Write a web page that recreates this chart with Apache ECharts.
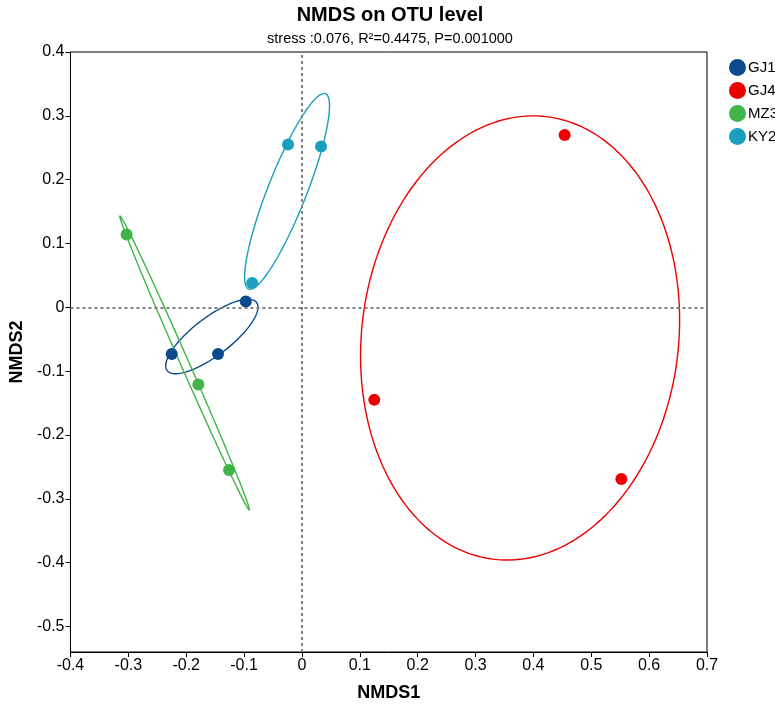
<!DOCTYPE html>
<html><head><meta charset="utf-8">
<script src="https://cdn.jsdelivr.net/npm/echarts@6/dist/echarts.min.js"></script>
<style>html,body{margin:0;padding:0;background:#fff}#c{width:775px;height:707px}</style>
</head><body><div id="c"></div><script>
// ---- data ----
const groups = ['GJ1', 'GJ4', 'MZ3', 'KY2'];
const colors = ['#0C4A8E', '#EC0000', '#40B448', '#1A9FBF'];
const GJ1 = [[-0.097, 0.009], [-0.225, -0.073], [-0.145, -0.073]];
const GJ4 = [[0.454, 0.270], [0.125, -0.145], [0.552, -0.269]];
const MZ3 = [[-0.303, 0.114], [-0.179, -0.121], [-0.126, -0.255]];
const KY2 = [[-0.024, 0.255], [0.033, 0.252], [-0.086, 0.038]];
const xTicks = [-0.4, -0.3, -0.2, -0.1, 0, 0.1, 0.2, 0.3, 0.4, 0.5, 0.6, 0.7];
const yTicks = [-0.5, -0.4, -0.3, -0.2, -0.1, 0, 0.1, 0.2, 0.3, 0.4];
const ellipseScale = 1.2326; // confidence-ellipse radius in sample-SD units
const titleText = 'NMDS on OTU level';
const subText = 'stress :0.076, R\u00B2=0.4475, P=0.001000';

const groupData = [GJ1, GJ4, MZ3, KY2];
const FONT = '"Liberation Sans", Arial, sans-serif';

// covariance ellipse (data space) for each group, mapped through the axes
function ellipseStats(pts) {
  const n = pts.length;
  let mx = 0, my = 0;
  pts.forEach(p => { mx += p[0]; my += p[1]; });
  mx /= n; my /= n;
  let sxx = 0, syy = 0, sxy = 0;
  pts.forEach(p => { const dx = p[0] - mx, dy = p[1] - my; sxx += dx * dx; syy += dy * dy; sxy += dx * dy; });
  sxx /= (n - 1); syy /= (n - 1); sxy /= (n - 1);
  const a = Math.sqrt(sxx), b = sxy / a, c = Math.sqrt(Math.max(syy - b * b, 0));
  return { mx, my, a, b, c };
}

const series = [];
// zero reference lines
series.push({
  type: 'scatter', name: '_ref', data: [], z: 1, silent: true,
  markLine: {
    silent: true, symbol: 'none', animation: false,
    label: { show: false },
    lineStyle: { type: [3, 3], color: '#808080', width: 2 },
    data: [{ xAxis: 0 }, { yAxis: 0 }]
  }
});
groups.forEach((g, i) => {
  const st = ellipseStats(groupData[i]);
  series.push({
    type: 'custom', name: g, z: 2, silent: true,
    itemStyle: { color: colors[i] },
    data: [[st.mx, st.my]],
    renderItem: function (params, api) {
      const pts = [];
      const N = 180;
      for (let k = 0; k <= N; k++) {
        const t = 2 * Math.PI * k / N;
        const ct = Math.cos(t), s = Math.sin(t);
        const x = st.mx + ellipseScale * st.a * ct;
        const y = st.my + ellipseScale * (st.b * ct + st.c * s);
        pts.push(api.coord([x, y]));
      }
      return { type: 'polyline', shape: { points: pts }, style: { stroke: colors[i], fill: null, lineWidth: 1.4 } };
    }
  });
});
groups.forEach((g, i) => {
  series.push({
    type: 'scatter', name: g, z: 3, data: groupData[i], symbol: 'circle', symbolSize: 12,
    itemStyle: { color: colors[i], opacity: 1 }
  });
});

const chart = echarts.init(document.getElementById('c'), null, { renderer: 'canvas' });
chart.setOption({
  animation: false,
  backgroundColor: '#fff',
  title: {
    text: titleText, subtext: subText, left: 385, textAlign: 'center', top: 0, itemGap: 6,
    textStyle: { fontFamily: FONT, fontSize: 20, fontWeight: 'bold', color: '#000' },
    subtextStyle: { fontFamily: FONT, fontSize: 14.5, color: '#000' }
  },
  legend: {
    data: groups.map(g => ({ name: g, icon: 'circle' })),
    orient: 'vertical', left: 724, top: 54, itemWidth: 17, itemHeight: 17, itemGap: 6,
    textStyle: { fontFamily: FONT, fontSize: 15, color: '#000', padding: [0, 0, 0, -3] }
  },
  grid: { left: 64, right: 68, top: 52, bottom: 46, show: true, borderColor: '#000', borderWidth: 1, containLabel: false },
  xAxis: {
    type: 'value', min: xTicks[0], max: xTicks[xTicks.length - 1], interval: 0.1,
    name: 'NMDS1', nameLocation: 'middle', nameGap: 32,
    nameTextStyle: { fontFamily: FONT, fontSize: 18, fontWeight: 'bold', color: '#000' },
    axisLine: { show: true, onZero: false, lineStyle: { color: '#000', width: 1 } },
    axisTick: { show: true, inside: false, length: 5, lineStyle: { color: '#000' } },
    axisLabel: { fontFamily: FONT, fontSize: 16, color: '#000', margin: 6, formatter: v => String(+v.toFixed(1)) },
    splitLine: { show: false }
  },
  yAxis: {
    type: 'value', min: -0.54, max: 0.4,
    name: 'NMDS2', nameLocation: 'middle', nameGap: 44,
    nameTextStyle: { fontFamily: FONT, fontSize: 18, fontWeight: 'bold', color: '#000' },
    axisLine: { show: true, onZero: false, lineStyle: { color: '#000', width: 1 } },
    axisTick: { show: true, inside: false, length: 5, customValues: yTicks, lineStyle: { color: '#000' } },
    axisLabel: { fontFamily: FONT, fontSize: 16, color: '#000', margin: 6, customValues: yTicks, formatter: v => String(+v.toFixed(1)) },
    splitLine: { show: false }
  },
  series: series
});
</script></body></html>
